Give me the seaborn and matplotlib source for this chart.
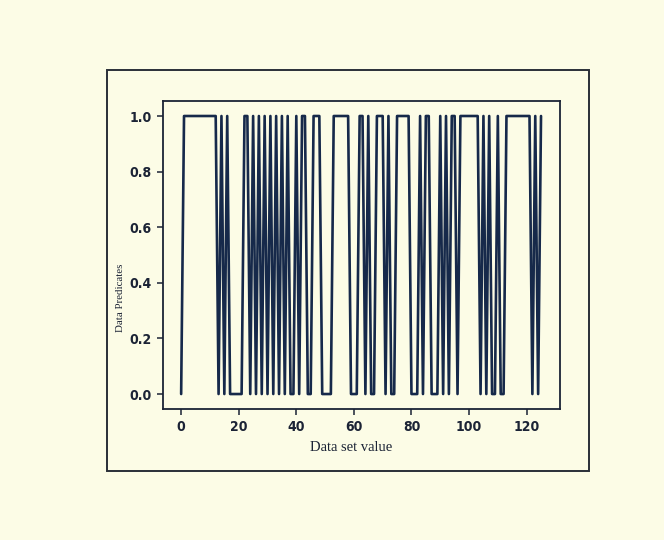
import matplotlib
matplotlib.use("Agg")
import matplotlib.pyplot as plt
from matplotlib.patches import Rectangle
import seaborn as sns
import pandas as pd

# values (0/1 predicate per data set index)
predicates = [
    0,
    1, 1, 1, 1, 1, 1, 1, 1, 1, 1, 1, 1,          # 1-12
    0, 1, 0, 1,                                  # 13-16
    0, 0, 0, 0, 0,                               # 17-21
    1, 1, 0, 1,                                  # 22-25
    0, 1, 0, 1, 0, 1, 0, 1, 0, 1, 0, 1,          # 26-37
    0, 0, 1, 0, 1, 1, 0, 0, 1, 1, 1,             # 38-48
    0, 0, 0, 0,                                  # 49-52
    1, 1, 1, 1, 1, 1,                            # 53-58
    0, 0, 0,                                     # 59-61
    1, 1, 0, 1, 0, 0, 1, 1, 1, 0, 1, 0, 0,       # 62-74
    1, 1, 1, 1, 1,                               # 75-79
    0, 0, 0,                                     # 80-82
    1, 0, 1, 1, 0, 0, 0, 1, 0, 1, 0, 1, 1, 0,    # 83-96
    1, 1, 1, 1, 1, 1, 1,                         # 97-103
    0, 1, 0, 1, 0, 0, 1, 0, 0,                   # 104-112
    1, 1, 1, 1, 1, 1, 1, 1, 1,                   # 113-121
    0, 1, 0, 1,                                  # 122-125
]
data_set_value = list(range(len(predicates)))
x_ticks = [0, 20, 40, 60, 80, 100, 120]
y_ticks = [0.0, 0.2, 0.4, 0.6, 0.8, 1.0]
y_tick_labels = ["0.0", "0.2", "0.4", "0.6", "0.8", "1.0"]
x_label = "Data set value"
y_label = "Data Predicates"

df = pd.DataFrame({"x": data_set_value, "y": predicates})

sns.set_theme(style="ticks")
cream = "#fcfce6"
ink = "#1b2335"
line_color = "#16294a"

fig = plt.figure(figsize=(6.64, 5.40), dpi=100, facecolor=cream)
ax = fig.add_axes([0.2455, 0.242, 0.5979, 0.5715])
ax.set_facecolor(cream)

sns.lineplot(data=df, x="x", y="y", ax=ax, color=line_color, linewidth=1.9,
             estimator=None, sort=False)

ax.set_xlim(-6.3, 131.6)
ax.set_ylim(-0.055, 1.055)
ax.set_xticks(x_ticks)
ax.set_xticklabels([str(t) for t in x_ticks])
ax.set_yticks(y_ticks)
ax.set_yticklabels(y_tick_labels)
ax.tick_params(axis="both", direction="out", length=4, width=1.1, colors=ink,
               labelsize=10, pad=4)
for lab in ax.get_xticklabels() + ax.get_yticklabels():
    lab.set_fontweight("bold")
    lab.set_fontstretch("condensed")
    lab.set_color(ink)
for sp in ax.spines.values():
    sp.set_visible(True)
    sp.set_color(ink)
    sp.set_linewidth(1.3)

ax.set_xlabel(x_label, family="Liberation Serif", fontsize=10.5, color=ink)
ax.xaxis.label.set_va("center")
ax.xaxis.set_label_coords(0.475, -0.125)
ax.set_ylabel(y_label, family="Liberation Serif", fontsize=7.8, color=ink)
ax.yaxis.label.set_va("center")
ax.yaxis.label.set_ha("center")
ax.yaxis.set_label_coords(-0.108, 0.36)

# outer frame (original figure border)
frame = Rectangle((0.1616, 0.1283), 0.7255, 0.742, transform=fig.transFigure,
                  fill=False, edgecolor="#2a2f38", linewidth=1.4)
fig.patches.append(frame)

fig.savefig("out.png", dpi=100, facecolor=cream)
